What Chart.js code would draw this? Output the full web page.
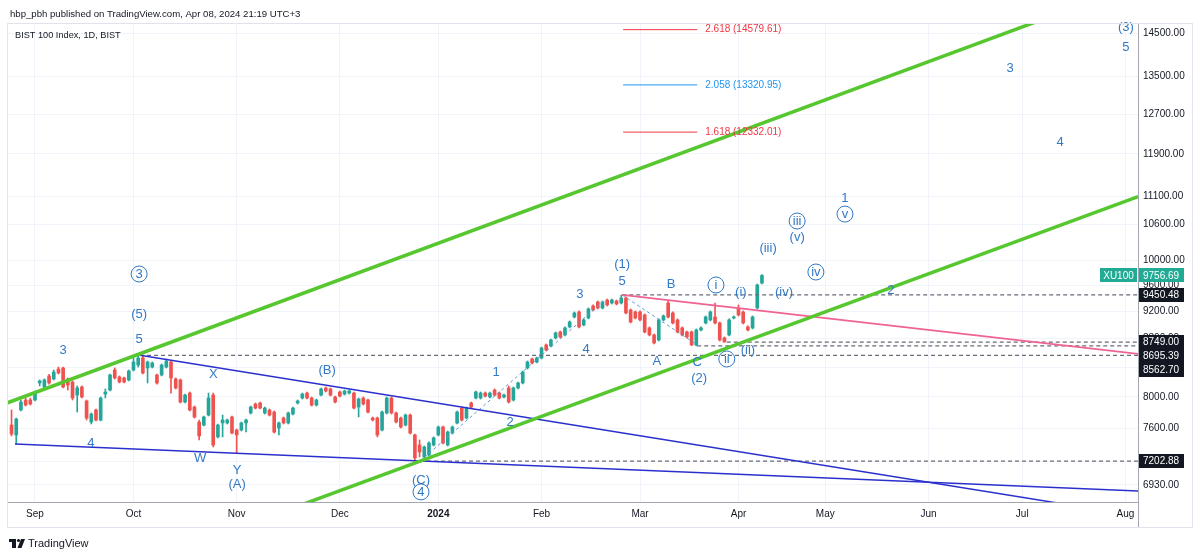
<!DOCTYPE html>
<html>
<head>
<meta charset="utf-8">
<script src="https://cdn.jsdelivr.net/npm/chart.js@4.4.1/dist/chart.umd.min.js"></script>
<style>
  html, body { margin: 0; padding: 0; background: #fff; }
  canvas { display: block; }
</style>
</head>
<body>
<canvas id="chart" width="1200" height="553"></canvas>
<script>
// Дневные свечи BIST 100, индекс бара от 1 сентября (0)
const firstBar = -5;
const openPrices = [
  7641, 7518, 7831, 7960, 7960, 7960, 8185, 8131, 8279, 8238,
  8374, 8388, 8238, 8198, 8025, 8131, 7947, 7679, 7831, 7704,
  8038, 8091, 8360, 8265, 8252, 8225, 8360, 8429, 8526, 8388,
  8401, 8292, 8292, 8401, 8470, 8238, 8225, 7934, 8051, 7869,
  7679, 7641, 7767, 8025, 7494, 7667, 7667, 7742, 7579, 7579,
  7667, 7793, 7908, 7921, 7793, 7831, 7805, 7604, 7729, 7667,
  7780, 7921, 7986, 8051, 7986, 7895, 8025, 8118, 8105, 7999,
  8065, 8038, 8051, 8051, 7869, 7986, 7960, 7729, 7729, 7579,
  7793, 7986, 7793, 7729, 7641, 7767, 7518, 7396, 7253, 7276,
  7396, 7518, 7616, 7396, 7542, 7667, 7856, 7729, 7921, 7986,
  7986, 8051, 7999, 8091, 8051, 7999, 8118, 7960, 8118, 8185,
  8388, 8512, 8470, 8526, 8709, 8695, 8810, 8896, 8853, 8970,
  9117, 9192, 8999, 9102, 9282, 9343, 9252, 9373, 9328, 9358,
  9328, 9404, 9222, 9192, 9192, 9147, 8955, 8853, 8781, 9073,
  9328, 9177, 9073, 8955, 8896, 8896, 8709, 8925, 9028, 9073,
  9117, 9028, 8810, 8853, 9102, 9252, 9192, 8970, 8955, 9252, 9637
];
const highPrices = [
  7831, 7729, 7960, 7986, 7986, 8078, 8225, 8240, 8300, 8360,
  8401, 8401, 8252, 8212, 8145, 8145, 7960, 7793, 7844, 7999,
  8105, 8306, 8388, 8279, 8265, 8360, 8526, 8562.70, 8554, 8484,
  8470, 8306, 8443, 8512, 8484, 8252, 8238, 8038, 8065, 7882,
  7704, 7755, 8051, 8051, 7654, 7767, 7717, 7755, 7591, 7679,
  7717, 7882, 7921, 7934, 7869, 7844, 7818, 7679, 7742, 7805,
  7869, 7960, 8051, 8065, 7999, 7973, 8118, 8131, 8118, 8012,
  8078, 8091, 8091, 8065, 7986, 7999, 7973, 7742, 7742, 7818,
  7999, 7999, 7805, 7742, 7780, 7780, 7530, 7457, 7384, 7433,
  7494, 7629, 7629, 7567, 7629, 7818, 7869, 7869, 7934, 8078,
  8065, 8065, 8065, 8105, 8065, 8038, 8145, 8131, 8198, 8347,
  8484, 8526, 8540, 8680, 8723, 8795, 8896, 8910, 8970, 9058,
  9192, 9207, 9088, 9252, 9298, 9358, 9358, 9388, 9388, 9373,
  9450.48, 9420, 9237, 9207, 9207, 9162, 8970, 8867, 9088, 9147,
  9358, 9192, 9088, 8970, 8910, 8910, 8940, 8970, 9132, 9207,
  9328, 9043, 8824, 9088, 9132, 9298, 9207, 8985, 9132, 9621, 9770
];
const lowPrices = [
  7506, 7408, 7818, 7882, 7895, 7947, 8145, 8118, 8170, 8225,
  8306, 8118, 8091, 7960, 7805, 7986, 7704, 7654, 7692, 7692,
  7986, 8078, 8238, 8185, 8185, 8212, 8347, 8401, 8306, 8185,
  8388, 8170, 8279, 8388, 8051, 8105, 7921, 7921, 7818, 7729,
  7457, 7629, 7755, 7372, 7482, 7494, 7654, 7530, 7300, 7567,
  7554, 7780, 7844, 7844, 7780, 7755, 7542, 7518, 7654, 7654,
  7767, 7908, 7973, 7973, 7882, 7882, 8012, 8065, 8012, 7921,
  7999, 8025, 8038, 7844, 7742, 7895, 7793, 7692, 7494, 7567,
  7780, 7780, 7667, 7604, 7629, 7530, 7202.88, 7253, 7229, 7264,
  7384, 7506, 7408, 7384, 7530, 7654, 7692, 7717, 7856, 7973,
  7973, 7999, 7986, 8012, 7973, 7986, 7921, 7947, 8105, 8172,
  8374, 8443, 8456, 8512, 8624, 8680, 8795, 8810, 8839, 8955,
  9102, 8955, 8985, 9088, 9207, 9237, 9237, 9282, 9313, 9298,
  9313, 9162, 9028, 9088, 9058, 8882, 8839, 8723, 8766, 9058,
  9102, 9014, 8882, 8839, 8810, 8700, 8695.39, 8910, 9014, 9058,
  9014, 8766, 8749, 8839, 9088, 9132, 9014, 8910, 8940, 9237, 9621
];
const closePrices = [
  7530, 7716, 7934, 7895, 7908, 8051, 8212, 8225, 8185, 8333,
  8319, 8131, 8158, 7986, 8118, 7999, 7729, 7780, 7704, 7986,
  8065, 8292, 8252, 8198, 8198, 8347, 8470, 8526, 8319, 8470,
  8456, 8185, 8429, 8484, 8252, 8118, 7934, 8025, 7831, 7742,
  7506, 7742, 7986, 7396, 7641, 7704, 7704, 7542, 7518, 7667,
  7704, 7869, 7856, 7856, 7856, 7767, 7554, 7667, 7667, 7793,
  7856, 7947, 8038, 7986, 7895, 7960, 8105, 8078, 8025, 7934,
  8012, 8078, 8078, 7856, 7973, 7908, 7805, 7704, 7518, 7805,
  7986, 7793, 7679, 7616, 7767, 7542, 7241, 7312, 7372, 7420,
  7482, 7616, 7420, 7554, 7616, 7805, 7704, 7856, 7869, 8065,
  8051, 8012, 8051, 8025, 7986, 8025, 7934, 8118, 8185, 8333,
  8470, 8456, 8526, 8666, 8638, 8781, 8882, 8824, 8955, 9043,
  9177, 8970, 9073, 9237, 9222, 9252, 9343, 9298, 9373, 9313,
  9404, 9177, 9043, 9102, 9073, 8896, 8853, 8738, 9073, 9132,
  9117, 9028, 8896, 8853, 8824, 8709, 8925, 8955, 9117, 9192,
  9028, 8781, 8752, 9073, 9117, 9147, 9028, 8925, 9117, 9606, 9756.69
];

// Ось времени и цены
const monthLabels = ['Sep', 'Oct', 'Nov', 'Dec', '2024', 'Feb', 'Mar', 'Apr', 'May', 'Jun', 'Jul', 'Aug'];
const monthTicks = [0, 21, 43, 65, 86, 108, 129, 150, 168.5, 190.5, 210.5, 232.5];
const priceTicks = [6930, 7200, 7600, 8000, 8400, 8800, 9200, 9600, 10000, 10600, 11100, 11900, 12700, 13500, 14500];

// Линии разметки: [индекс бара, цена]
const upperChannel = [[-6, 7921], [235.2, 15708]];
const lowerChannel = [[50, 6579], [235.2, 11100]];
const wedgeTop = [[22.4, 8562.70], [235.2, 6586]];
const wedgeBottom = [[-4.26, 7409], [235.2, 6860]];
const pinkTrend = [[125.2, 9450.48], [235.2, 8583]];
const impulseDash = [[82.1, 7202.88], [121.5, 9373]];
const correctionDash = [[125.2, 9450.48], [141.2, 8709]];

// Горизонтальные уровни
const levelPrices = [9450.48, 8749.00, 8695.39, 8562.70, 7202.88];
const levelStarts = [125.2, 147.5, 141.2, 22.4, 82.1];
const lastPrice = 9756.69;

// Фибоначчи
const fibRatios = ['2.618', '2.058', '1.618'];
const fibPrices = [14579.61, 13320.95, 12332.01];
const fibStart = 125.4;
const fibEnd = 141.2;

// Волновая разметка: [текст, индекс бара, цена, в кружке]
const waveLabels = [
  ['3', 6.0, 8638, false],
  ['4', 11.9, 7420, false],
  ['3', 22.2, 9780, true],
  ['(5)', 22.2, 9162, false],
  ['5', 22.2, 8795, false],
  ['X', 38.0, 8306, false],
  ['W', 35.2, 7241, false],
  ['Y', 43.1, 7100, false],
  ['(A)', 43.1, 6940, false],
  ['(B)', 62.3, 8360, false],
  ['(C)', 82.3, 6985, false],
  ['4', 82.3, 6850, true],
  ['1', 98.3, 8333, false],
  ['2', 101.3, 7679, false],
  ['3', 116.2, 9466, false],
  ['4', 117.5, 8652, false],
  ['(1)', 125.2, 9941, false],
  ['5', 125.2, 9669, false],
  ['B', 135.6, 9622, false],
  ['A', 132.6, 8484, false],
  ['C', 141.2, 8470, false],
  ['(2)', 141.6, 8252, false],
  ['i', 145.2, 9606, true],
  ['(i)', 150.5, 9497, false],
  ['(iv)', 159.7, 9497, false],
  ['(ii)', 152.0, 8638, false],
  ['ii', 147.5, 8512, true],
  ['(iii)', 156.3, 10204, false],
  ['iii', 162.5, 10665, true],
  ['(v)', 162.5, 10389, false],
  ['iv', 166.5, 9812, true],
  ['1', 172.7, 11074, false],
  ['v', 172.7, 10786, true],
  ['2', 182.5, 9528, false],
  ['3', 207.9, 13694, false],
  ['4', 218.6, 12135, false],
  ['(3)', 232.6, 14643, false],
  ['5', 232.6, 14172, false]
];

const FONT = '"Liberation Sans", Arial, sans-serif';
const upColor = '#26a69a';
const downColor = '#ef5350';
const waveColor = '#3179c4';
const greenLine = '#56c72f';
const blueLine = '#2b30cc';

const barIndex = closePrices.map((_, k) => firstBar + k);
const candleColors = closePrices.map((c, k) => c >= openPrices[k] ? upColor : downColor);

function toPoints(pairs) {
  return pairs.map(p => ({ x: p[0], y: p[1] }));
}

function lineSet(pairs, color, width, dash) {
  return {
    type: 'line',
    data: toPoints(pairs),
    borderColor: color,
    borderWidth: width,
    borderDash: dash || [],
    pointRadius: 0,
    fill: false,
    tension: 0,
    order: 0
  };
}

const datasets = [
  {
    type: 'bar',
    data: barIndex.map((x, k) => ({ x: x, y: [lowPrices[k], highPrices[k]] })),
    backgroundColor: candleColors,
    barThickness: 1,
    grouped: false,
    order: 3
  },
  {
    type: 'bar',
    data: barIndex.map((x, k) => ({ x: x, y: [openPrices[k], closePrices[k]] })),
    backgroundColor: candleColors,
    barThickness: 3,
    minBarLength: 1,
    grouped: false,
    order: 2
  },
  lineSet(upperChannel, greenLine, 3.5),
  lineSet(lowerChannel, greenLine, 3.5),
  lineSet(wedgeTop, blueLine, 1.5),
  lineSet(wedgeBottom, blueLine, 1.5),
  lineSet(pinkTrend, '#f06292', 1.8),
  lineSet(impulseDash, '#5b9bd5', 1, [3, 3]),
  lineSet(correctionDash, '#5b9bd5', 1, [3, 3])
];

levelPrices.forEach((p, k) => {
  datasets.push(lineSet([[levelStarts[k], p], [235.2, p]], '#6a6d78', 1.3, [4, 3]));
});
fibPrices.forEach((p, k) => {
  datasets.push(lineSet([[fibStart, p], [fibEnd, p]], k === 1 ? '#2196f3' : '#f23645', 1));
});

// Надписи, плашки на шкале, шапка
const overlay = {
  id: 'overlay',
  beforeDraw(chart) {
    const c = chart.ctx;
    c.save();
    c.fillStyle = '#ffffff';
    c.fillRect(0, 0, chart.width, chart.height);
    c.restore();
  },
  afterDatasetsDraw(chart) {
    const c = chart.ctx;
    const xs = chart.scales.x;
    const ys = chart.scales.y;
    c.save();
    // Фибо подписи
    c.font = '10px ' + FONT;
    c.textAlign = 'left';
    c.textBaseline = 'middle';
    fibPrices.forEach((p, k) => {
      c.fillStyle = k === 1 ? '#2196f3' : '#f23645';
      c.fillText(fibRatios[k] + ' (' + p.toFixed(2) + ')', xs.getPixelForValue(fibEnd) + 8, ys.getPixelForValue(p));
    });
    // Волны
    c.font = '13px ' + FONT;
    c.textAlign = 'center';
    c.fillStyle = waveColor;
    c.strokeStyle = waveColor;
    c.lineWidth = 1;
    waveLabels.forEach(([t, i, p, circled]) => {
      const x = xs.getPixelForValue(i);
      const y = ys.getPixelForValue(p);
      if (circled) {
        c.beginPath();
        c.arc(x, y, 8, 0, Math.PI * 2);
        c.stroke();
      }
      c.fillText(t, x, y + 0.5);
    });
    c.restore();
  },
  afterDraw(chart) {
    const c = chart.ctx;
    const ys = chart.scales.y;
    const area = chart.chartArea;
    c.save();

    // Рамка панели
    c.strokeStyle = '#e0e3eb';
    c.lineWidth = 1;
    c.strokeRect(7.5, 23.5, 1185, 504);
    c.strokeStyle = '#a3a6af';
    c.beginPath();
    c.moveTo(area.right + 0.5, area.bottom);
    c.lineTo(area.right + 0.5, 527);
    c.stroke();

    // Шапка
    c.fillStyle = '#131722';
    c.font = '9.6px ' + FONT;
    c.textAlign = 'left';
    c.textBaseline = 'middle';
    c.fillText('hbp_pbh published on TradingView.com, Apr 08, 2024 21:19 UTC+3', 10, 14);
    c.font = '9.2px ' + FONT;
    c.fillText('BIST 100 Index, 1D, BIST', 15, 35);

    // Плашки уровней на шкале
    const h = 14;
    const boxes = levelPrices.map(p => ({ p: p, y: ys.getPixelForValue(p) })).sort((a, b) => a.y - b.y);
    for (let k = 1; k < boxes.length; k++) {
      if (boxes[k].y - boxes[k - 1].y < h) boxes[k].y = boxes[k - 1].y + h;
    }
    c.font = '10px ' + FONT;
    boxes.forEach(b => {
      c.fillStyle = '#131722';
      c.fillRect(area.right + 1, Math.round(b.y - h / 2), 45, h);
      c.fillStyle = '#ffffff';
      c.textAlign = 'left';
      c.fillText(b.p.toFixed(2), area.right + 5, b.y + 0.5);
    });

    // Текущая цена
    const yl = ys.getPixelForValue(lastPrice);
    c.fillStyle = '#22ab94';
    c.fillRect(area.right + 1, Math.round(yl - h / 2), 45, h);
    c.fillRect(area.right - 38, Math.round(yl - h / 2), 37, h);
    c.fillStyle = '#ffffff';
    c.fillText(lastPrice.toFixed(2), area.right + 5, yl + 0.5);
    c.textAlign = 'center';
    c.fillText('XU100', area.right - 19.5, yl + 0.5);

    // Логотип
    c.fillStyle = '#131722';
    c.fillRect(9, 539, 7, 3);
    c.fillRect(12, 539, 4, 9);
    c.beginPath();
    c.arc(18.5, 540.5, 1.6, 0, Math.PI * 2);
    c.fill();
    c.beginPath();
    c.moveTo(21, 539);
    c.lineTo(25, 539);
    c.lineTo(21.5, 548);
    c.lineTo(17.5, 548);
    c.closePath();
    c.fill();
    c.font = '11px ' + FONT;
    c.textAlign = 'left';
    c.fillText('TradingView', 28, 544);
    c.restore();
  }
};

new Chart(document.getElementById('chart'), {
  type: 'bar',
  data: { datasets: datasets },
  options: {
    responsive: false,
    maintainAspectRatio: false,
    devicePixelRatio: 1,
    animation: false,
    layout: { padding: { left: 7, right: 0, top: 23, bottom: 26 } },
    plugins: { legend: { display: false }, tooltip: { enabled: false } },
    scales: {
      x: {
        type: 'linear',
        min: -5.97,
        max: 235.18,
        offset: false,
        afterBuildTicks: s => { s.ticks = monthTicks.map(v => ({ value: v })); },
        afterFit: s => { s.height = 25; },
        grid: { color: '#f0f3fa', drawTicks: false, offset: false },
        border: { color: '#a3a6af' },
        ticks: {
          autoSkip: false,
          maxRotation: 0,
          padding: 6,
          color: '#131722',
          font: ctx => ({ family: FONT, size: 10, weight: ctx.index === 4 ? 'bold' : 'normal' }),
          callback: (v, i) => monthLabels[i]
        }
      },
      y: {
        type: 'logarithmic',
        position: 'right',
        min: 6738,
        max: 14739,
        beginAtZero: false,
        afterBuildTicks: s => { s.ticks = priceTicks.map(v => ({ value: v })); },
        afterFit: s => { s.width = 62; },
        grid: { color: '#f0f3fa', drawTicks: false },
        border: { color: '#a3a6af' },
        ticks: {
          autoSkip: false,
          padding: 5,
          color: '#131722',
          font: { family: FONT, size: 10 },
          callback: v => Number(v).toFixed(2)
        }
      }
    }
  },
  plugins: [overlay]
});
</script>
</body>
</html>
